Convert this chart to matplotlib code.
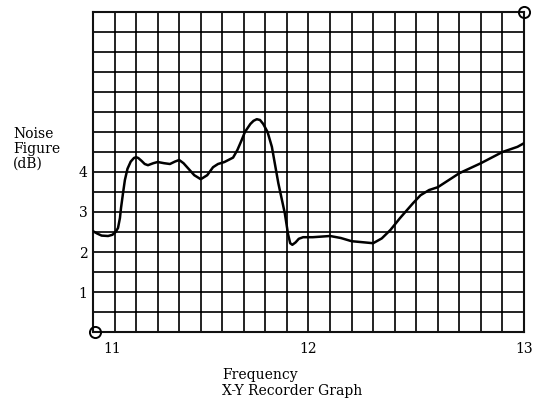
import numpy as np
import matplotlib
matplotlib.use("Agg")
import matplotlib.pyplot as plt
import matplotlib.transforms as mtransforms

# X-Y recorder trace (GHz, dB)
freq = [11.00, 11.02, 11.04, 11.07, 11.09, 11.105, 11.116, 11.125, 11.13, 11.14,
        11.148, 11.16, 11.175, 11.19, 11.20, 11.21, 11.225, 11.24, 11.255, 11.28,
        11.30, 11.33, 11.357, 11.38, 11.40, 11.42, 11.44, 11.47, 11.50, 11.53,
        11.557, 11.58, 11.61, 11.65, 11.67, 11.69, 11.705, 11.73, 11.745, 11.76,
        11.775, 11.79, 11.81, 11.83, 11.86, 11.89, 11.905, 11.915, 11.925, 11.94,
        11.955, 11.975, 12.02, 12.10, 12.15, 12.20, 12.30, 12.34, 12.38, 12.425,
        12.485, 12.52, 12.56, 12.60, 12.70, 12.80, 12.90, 12.97, 13.00]
nf = [2.52, 2.46, 2.41, 2.40, 2.43, 2.50, 2.60, 2.85, 3.10, 3.50,
      3.80, 4.08, 4.26, 4.35, 4.37, 4.35, 4.28, 4.20, 4.17, 4.22,
      4.25, 4.22, 4.20, 4.26, 4.30, 4.22, 4.10, 3.92, 3.82, 3.92,
      4.12, 4.20, 4.25, 4.36, 4.55, 4.80, 5.00, 5.20, 5.28, 5.32,
      5.30, 5.20, 5.00, 4.63, 3.72, 2.97, 2.45, 2.22, 2.18, 2.24,
      2.33, 2.37, 2.37, 2.40, 2.35, 2.27, 2.22, 2.34, 2.55, 2.85,
      3.22, 3.42, 3.55, 3.62, 3.97, 4.22, 4.50, 4.63, 4.72]

xticks = [11, 12, 13]
yticks = [1, 2, 3, 4]

plt.rcParams['font.family'] = ['DejaVu Serif']

fig = plt.figure(figsize=(5.39, 4.0), dpi=100)
ax = fig.add_axes([93 / 539, 68 / 400, 431 / 539, 320 / 400])

ax.set_xlim(11, 13)
ax.set_ylim(0, 8)

# recorder paper grid
for gx in np.arange(11, 13.001, 0.1):
    ax.axvline(gx, color='#111111', lw=1.3, zorder=1)
for gy in np.arange(0, 8.001, 0.5):
    ax.axhline(gy, color='#111111', lw=1.3, zorder=1)
gxx, gyy = np.meshgrid(np.arange(11, 13.001, 0.1), np.arange(0, 8.001, 0.5))
ax.scatter(gxx.ravel(), gyy.ravel(), s=3, c='black', marker='s', lw=0, zorder=2)

ax.plot(freq, nf, color='black', lw=1.8, zorder=3, solid_capstyle='round',
        solid_joinstyle='round')

# pen calibration circles
ax.plot([11.01, 13.0], [0, 8], 'o', ms=8, mfc='none', mec='black', mew=1.4,
        clip_on=False, zorder=4)

for s in ax.spines.values():
    s.set_linewidth(1.5)
    s.set_color('#111111')

ax.set_xticks(xticks)
ax.set_xticklabels([str(t) for t in xticks], fontsize=10)
ax.set_yticks(yticks)
ax.set_yticklabels([str(t) for t in yticks], fontsize=10)
ax.tick_params(length=0, pad=4)
ax.tick_params(axis='x', pad=7)

# "11" sits to the right of the origin on the original
lbl = ax.get_xticklabels()[0]
lbl.set_transform(lbl.get_transform() + mtransforms.ScaledTranslation(0.19, 0, fig.dpi_scale_trans))

fig.text(13 / 539, 1 - 149 / 400, "Noise\nFigure\n(dB)", fontsize=10,
         ha='left', va='center', linespacing=1.1)
fig.text(222 / 539, 1 - 383 / 400, "Frequency\nX-Y Recorder Graph", fontsize=10,
         ha='left', va='center', linespacing=1.1)

fig.savefig("out.png", dpi=100)
